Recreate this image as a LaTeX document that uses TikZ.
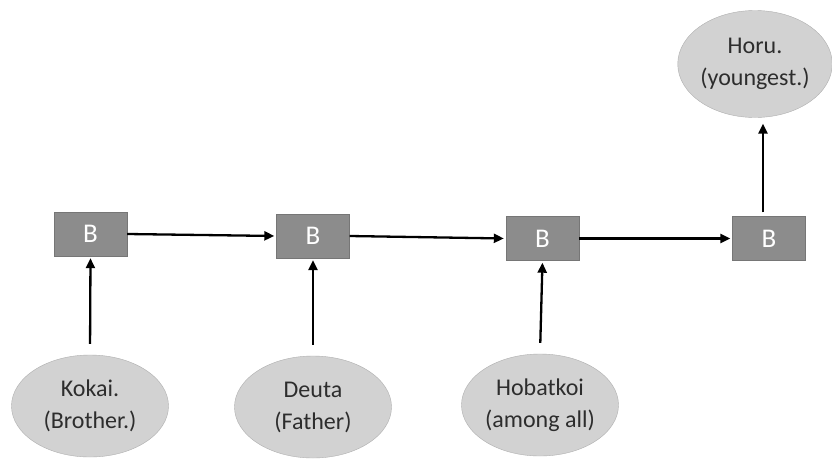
\documentclass[tikz,border=0pt]{standalone}
\usepackage{fontspec}
\setmainfont{Carlito}
\usetikzlibrary{shapes.geometric,arrows.meta}

\definecolor{boxgray}{RGB}{140,140,140}
\definecolor{boxedge}{RGB}{118,118,118}
\definecolor{ovalgray}{RGB}{210,210,210}
\definecolor{ovaledge}{RGB}{175,175,175}
\definecolor{txtgray}{RGB}{45,45,45}

\begin{document}
\begin{tikzpicture}[
		x=1pt, y=-1pt,
		bbox/.style = {
			shape=rectangle, draw=boxedge, fill=boxgray,
			minimum width=73pt, minimum height=44pt,
			text=white, font=\fontsize{27}{32}\selectfont},
		person/.style = {
			shape=ellipse, draw=ovaledge, fill=ovalgray,
			minimum width=157pt, minimum height=102pt, inner sep=0pt,
			align=center, text=txtgray, font=\fontsize{24}{32}\selectfont},
		link/.style = {
			line width=2.3pt, -{Triangle[length=10pt,width=9pt]}}]
		\useasboundingbox (0,0) rectangle (832,458);
		\fill[white] (0,0) rectangle (832,458);
		% the chain of boxes
		\node[bbox] (b1) at (90.5,234) {B};
		\node[bbox] (b2) at (313,236) {B};
		\node[bbox] (b3) at (542.5,238.5) {B};
		\node[bbox] (b4) at (769,238.5) {B};
		% the people
		\node[person] (kokai) at (90,406) {Kokai.\\(Brother.)};
		\node[person] (deuta) at (313,407) {Deuta\\(Father)};
		\node[person] (hobatkoi) at (540,405) {Hobatkoi\\(among all)};
		\node[person, minimum width=143pt, minimum height=107pt] (horu) at (755,64) {Horu.\\(youngest.)};
		% arrows
		\draw[link, shorten <=11pt, shorten >=2pt] (kokai.north) -- (b1.south);
		\draw[link, shorten <=11pt, shorten >=2pt] (deuta.north) -- (b2.south);
		\draw[link, shorten <=11pt, shorten >=2pt] (hobatkoi.north) -- (b3.south);
		\draw[link, shorten >=2pt] (b1.east) -- (b2.west);
		\draw[link, shorten >=2pt] (b2.east) -- (b3.west);
		\draw[link, shorten >=2pt] (b3.east) -- (b4.west);
		\draw[link, shorten <=4pt, shorten >=6pt] ([xshift=-6pt]b4.north) -- ([xshift=-6pt]b4.north |- horu.south);
	\end{tikzpicture}
\end{document}
